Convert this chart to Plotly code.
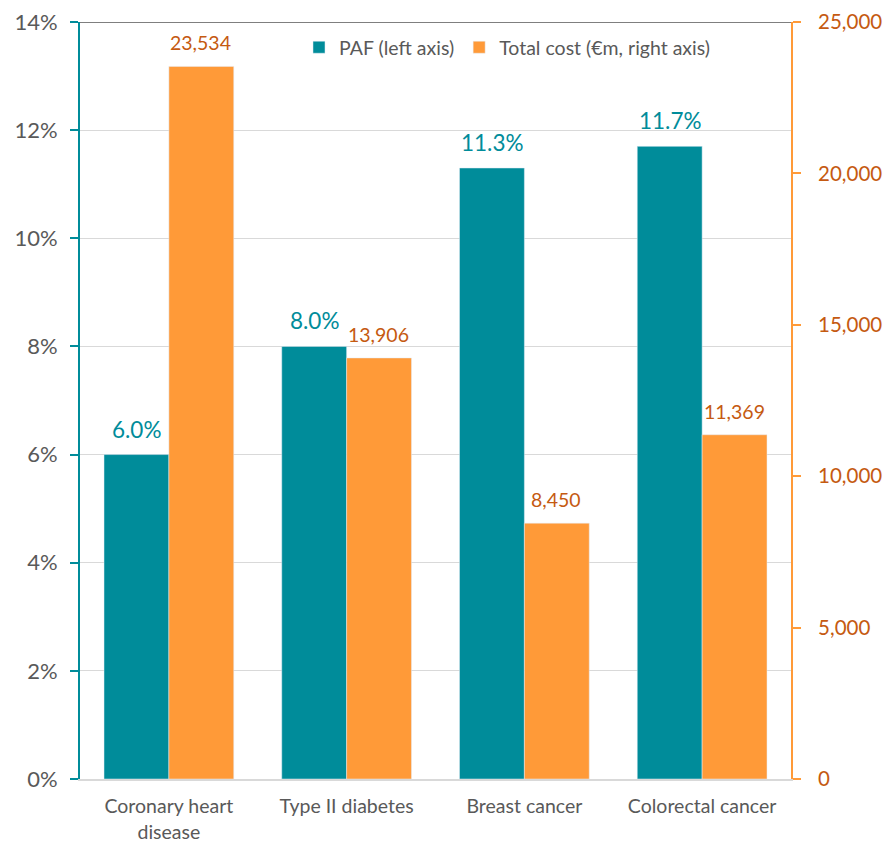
import plotly.graph_objects as go

categories = ["Coronary heart<br>disease", "Type II diabetes", "Breast cancer", "Colorectal cancer"]
paf = [0.060, 0.080, 0.113, 0.117]
paf_labels = ["6.0%", "8.0%", "11.3%", "11.7%"]
cost = [23534, 13906, 8450, 11369]
cost_labels = ["23,534", "13,906", "8,450", "11,369"]

TEAL = "#008C9A"
ORANGE = "#FF9A38"
ORANGE_TXT = "#C55A11"
GRAY = "#595959"
FONT = "Lato"

fig = go.Figure()
fig.add_trace(go.Bar(x=categories, y=paf, name="PAF (left axis)", marker_color=TEAL,
                     offsetgroup="a", yaxis="y"))
fig.add_trace(go.Bar(x=categories, y=cost, name="Total cost (€m, right axis)", marker_color=ORANGE,
                     offsetgroup="b", yaxis="y2"))

for c, v, t in zip(categories, paf, paf_labels):
    fig.add_annotation(x=c, y=v, yref="y", text=t, showarrow=False, xshift=-32, yanchor="bottom",
                       yshift=10, font=dict(family=FONT, size=22.5, color=TEAL))
for c, v, t in zip(categories, cost, cost_labels):
    fig.add_annotation(x=c, y=v, yref="y2", text=t, showarrow=False, xshift=32, yanchor="bottom",
                       yshift=10, font=dict(family=FONT, size=19.5, color=ORANGE_TXT))

fig.add_shape(type="line", xref="paper", yref="y", x0=0, x1=1, y0=0.14, y1=0.14,
              line=dict(color="#7F7F7F", width=2))

fig.update_layout(
    width=885, height=842,
    margin=dict(l=80, r=94, t=22, b=63),
    paper_bgcolor="white", plot_bgcolor="white",
    barmode="group", bargap=0.27, bargroupgap=0,
    font=dict(family=FONT, color=GRAY),
    showlegend=True,
    legend=dict(orientation="h", x=0.308, y=0.992, xanchor="left", yanchor="top",
                font=dict(family=FONT, size=19.5, color=GRAY), bgcolor="rgba(0,0,0,0)"),
    xaxis=dict(showline=True, linecolor="#D9D9D9", linewidth=2, ticks="", automargin=False,
               ticklabelstandoff=9,
               tickfont=dict(family=FONT, size=19.5, color=GRAY)),
    yaxis=dict(range=[0, 0.14], dtick=0.02, tickformat=".0%", showgrid=True, gridcolor="#D9D9D9",
               gridwidth=1, zeroline=False, showline=True, linecolor=TEAL, linewidth=2,
               ticks="outside", tickcolor=TEAL, ticklen=8, tickwidth=2, automargin=False,
               ticklabelstandoff=8,
               tickfont=dict(family=FONT, size=22, color=GRAY)),
    yaxis2=dict(range=[0, 25000], dtick=5000, tickformat=",", overlaying="y", side="right",
                showgrid=False, zeroline=False, showline=True, linecolor=ORANGE, linewidth=2,
                ticks="outside", tickcolor=ORANGE, ticklen=8, tickwidth=2, automargin=False,
                ticklabelstandoff=13,
                tickfont=dict(family=FONT, size=20.5, color=ORANGE_TXT)),
)

fig.write_html("out.html", config={"displayModeBar": False},
               post_script="document.body.style.margin='0';")
